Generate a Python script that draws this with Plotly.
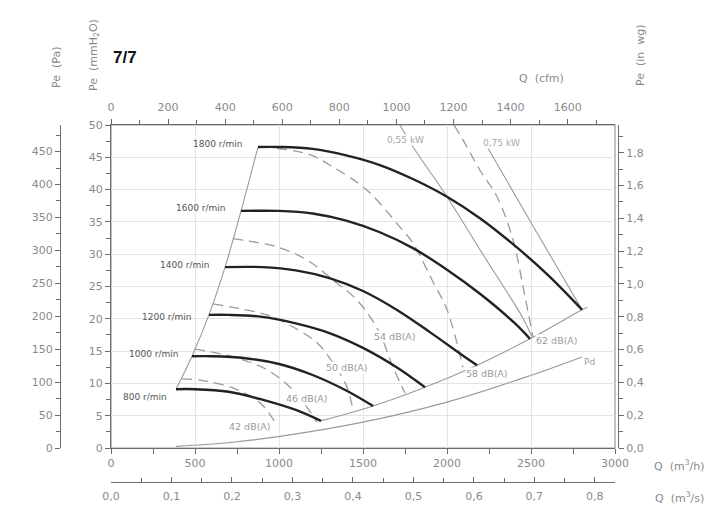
import plotly.graph_objects as go

# ---------------- data (Q in m3/h, Pe in mmH2O) ----------------
q_1800 = [875, 1000, 1200, 1400, 1600, 1800, 2000, 2200, 2400, 2600, 2804]
p_1800 = [46.6, 46.6, 46.3, 45.3, 43.8, 41.6, 38.9, 35.5, 31.4, 26.8, 21.4]
q_1600 = [774, 1000, 1200, 1400, 1600, 1800, 2000, 2200, 2400, 2494]
p_1600 = [36.7, 36.7, 36.3, 35.2, 33.4, 30.9, 27.6, 23.8, 19.4, 16.9]
q_1400 = [679, 900, 1100, 1300, 1500, 1700, 1900, 2100, 2179]
p_1400 = [28.0, 28.0, 27.5, 26.3, 24.3, 21.4, 17.9, 14.2, 12.8]
q_1200 = [583, 700, 900, 1100, 1300, 1500, 1700, 1869]
p_1200 = [20.6, 20.6, 20.3, 19.3, 17.8, 15.5, 12.5, 9.4]
q_1000 = [482, 600, 800, 1000, 1200, 1400, 1560]
p_1000 = [14.2, 14.2, 13.9, 13.0, 11.3, 8.9, 6.5]
q_800 = [387, 500, 700, 900, 1100, 1250]
p_800 = [9.1, 9.1, 8.7, 7.5, 5.9, 4.2]

speed_labels = ["1800 r/min", "1600 r/min", "1400 r/min", "1200 r/min", "1000 r/min", "800 r/min"]

# left limit (curve starts) and right limit (curve ends)
q_left = [387, 482, 583, 679, 774, 875]
p_left = [9.1, 14.2, 20.6, 28.0, 36.7, 46.6]
q_right = [1250, 1560, 1869, 2179, 2494, 2804, 2835]
p_right = [4.2, 6.5, 9.4, 12.8, 16.9, 21.4, 21.8]

# dynamic pressure
q_pd = [387, 726, 1006, 1500, 2000, 2494, 2804]
p_pd = [0.25, 0.9, 1.8, 4.0, 7.1, 11.2, 14.1]

# sound level curves
q_42 = [423, 530, 726, 887, 976]
p_42 = [10.7, 10.5, 9.3, 7.0, 4.0]
q_46 = [500, 726, 929, 1083, 1167, 1226]
p_46 = [15.3, 14.1, 12.1, 9.0, 6.3, 4.0]
q_50 = [607, 929, 1065, 1226, 1321, 1405, 1440]
p_50 = [22.3, 20.6, 19.0, 16.3, 13.2, 9.4, 5.9]
q_54 = [726, 1006, 1185, 1321, 1464, 1589, 1679, 1750]
p_54 = [32.4, 31.0, 28.8, 26.0, 22.9, 18.3, 12.5, 8.5]
q_58 = [988, 1185, 1321, 1524, 1720, 1798, 1911, 2000, 2095]
p_58 = [46.4, 45.4, 43.5, 39.9, 34.2, 31.7, 26.0, 21.4, 12.5]
q_62 = [2042, 2119, 2196, 2298, 2393, 2460, 2512]
p_62 = [50.0, 46.6, 43.0, 38.9, 32.2, 24.0, 17.2]
db_labels = ["42 dB(A)", "46 dB(A)", "50 dB(A)", "54 dB(A)", "58 dB(A)", "62 dB(A)"]

# power lines
q_055 = [1720, 1798, 2000, 2196, 2452, 2506]
p_055 = [50.0, 46.6, 38.9, 30.7, 20.1, 17.2]
q_075 = [2244, 2518, 2804]
p_075 = [46.4, 34.1, 21.4]
kw_labels = ["0,55 kW", "0,75 kW"]

# axis ticks
qh_ticks = [0, 500, 1000, 1500, 2000, 2500, 3000]
qs_ticks = [0.0, 0.1, 0.2, 0.3, 0.4, 0.5, 0.6, 0.7, 0.8]
qs_text = ["0,0", "0,1", "0,2", "0,3", "0,4", "0,5", "0,6", "0,7", "0,8"]
cfm_ticks = [0, 200, 400, 600, 800, 1000, 1200, 1400, 1600]
mm_ticks = [0, 5, 10, 15, 20, 25, 30, 35, 40, 45, 50]
pa_ticks = [0, 50, 100, 150, 200, 250, 300, 350, 400, 450]
inwg_ticks = [0.0, 0.2, 0.4, 0.6, 0.8, 1.0, 1.2, 1.4, 1.6, 1.8]
inwg_text = ["0,0", "0,2", "0,4", "0,6", "0,8", "1,0", "1,2", "1,4", "1,6", "1,8"]

Q_MAX = 3000
P_MAX = 50

# ---------------- figure ----------------
W, H = 716, 517
X0, X1 = 111 / W, 615 / W
Y0, Y1 = (H - 448) / H, (H - 125) / H

FONT = "DejaVu Sans"
TICKC = "#8a8a8a"
fig = go.Figure()

thin = dict(color="#9a9a9a", width=1.1)
dash = dict(color="#9a9a9a", width=1.3, dash="10px,6px")

for q, p in [(q_left, p_left), (q_right, p_right), (q_pd, p_pd), (q_055, p_055), (q_075, p_075)]:
    fig.add_trace(go.Scatter(x=q, y=p, mode="lines", line=dict(**thin, shape="spline", smoothing=1.0),
                             hoverinfo="skip"))
for q, p in [(q_42, p_42), (q_46, p_46), (q_50, p_50), (q_54, p_54), (q_58, p_58), (q_62, p_62)]:
    fig.add_trace(go.Scatter(x=q, y=p, mode="lines", line=dict(**dash, shape="spline", smoothing=1.0),
                             hoverinfo="skip"))
for q, p in [(q_1800, p_1800), (q_1600, p_1600), (q_1400, p_1400), (q_1200, p_1200),
             (q_1000, p_1000), (q_800, p_800)]:
    fig.add_trace(go.Scatter(x=q, y=p, mode="lines",
                             line=dict(color="#222222", width=2.4, shape="spline", smoothing=1.0),
                             hoverinfo="skip"))

# dummy traces so that secondary axes exist
fig.add_trace(go.Scatter(x=[None], y=[None], xaxis="x2", yaxis="y", showlegend=False))
fig.add_trace(go.Scatter(x=[None], y=[None], xaxis="x3", yaxis="y", showlegend=False))
fig.add_trace(go.Scatter(x=[None], y=[None], xaxis="x", yaxis="y2", showlegend=False))
fig.add_trace(go.Scatter(x=[None], y=[None], xaxis="x", yaxis="y3", showlegend=False))

tickfont = dict(family=FONT, size=11, color=TICKC)
axline = "#6a6a6a"

common = dict(automargin=False, zeroline=False, showline=True, linecolor=axline, linewidth=1.3,
              ticklen=5, tickcolor=axline, tickfont=tickfont)

fig.update_layout(
    template="none",
    width=W, height=H, margin=dict(l=0, r=0, t=0, b=0, pad=0),
    paper_bgcolor="white", plot_bgcolor="white", showlegend=False,
    xaxis=dict(domain=[X0, X1], range=[0, Q_MAX], anchor="y", tickvals=qh_ticks, ticks="outside",
               minor=dict(dtick=250, ticks="outside", ticklen=5, tickcolor=axline, showgrid=False),
               showgrid=True, gridcolor="#e4e4e4", gridwidth=1, **common),
    xaxis2=dict(overlaying="x", side="top", anchor="y", range=[0, Q_MAX / 1.69901],
                tickvals=cfm_ticks, ticklabelstandoff=3, ticks="outside",
                minor=dict(dtick=100, ticks="outside", ticklen=4, tickcolor=axline, showgrid=False),
                showgrid=False, **common),
    xaxis3=dict(overlaying="x", side="bottom", anchor="free", position=(H - 482) / H,
                range=[0, Q_MAX / 3600], tickvals=qs_ticks, ticktext=qs_text, ticks="inside",
                ticklabelstandoff=4,
                minor=dict(dtick=0.05, ticks="inside", ticklen=4, tickcolor=axline, showgrid=False),
                showgrid=False, **common),
    yaxis=dict(domain=[Y0, Y1], range=[0, P_MAX], anchor="x", tickvals=mm_ticks, ticks="outside",
               minor=dict(dtick=2.5, ticks="outside", ticklen=4, tickcolor=axline, showgrid=False),
               showgrid=True, gridcolor="#e4e4e4", gridwidth=1, **common),
    yaxis2=dict(overlaying="y", side="left", anchor="free", position=60 / W,
                range=[0, P_MAX * 9.80665], tickvals=pa_ticks, ticks="outside",
                minor=dict(dtick=25, ticks="outside", ticklen=4, tickcolor=axline, showgrid=False),
                showgrid=False, **common),
    yaxis3=dict(overlaying="y", side="right", anchor="free", position=618 / W,
                range=[0, P_MAX / 25.4], tickvals=inwg_ticks, ticktext=inwg_text, ticks="outside",
                minor=dict(dtick=0.1, ticks="outside", ticklen=4, tickcolor=axline, showgrid=False),
                showgrid=False, **common),
)

# plot frame
fig.add_shape(type="rect", xref="paper", yref="paper", x0=X0, x1=X1, y0=Y0, y1=Y1,
              line=dict(color="#9a9a9a", width=1.2), layer="below")

# curve labels (anchors in data coordinates)
speed_pos = [(631, 47.1), (530, 37.2), (440, 28.3), (333, 20.3), (250, 14.6), (202, 7.9)]
for t, (x, y) in zip(speed_labels, speed_pos):
    fig.add_annotation(x=x, y=y, text=t, showarrow=False,
                       font=dict(family=FONT, size=9, color="#555555"))
db_pos = [(827, 3.3), (1167, 7.7), (1405, 12.5), (1690, 17.2), (2238, 11.6), (2655, 16.6)]
for t, (x, y) in zip(db_labels, db_pos):
    fig.add_annotation(x=x, y=y, text=t, showarrow=False, bgcolor="white", borderpad=0,
                       font=dict(family=FONT, size=9.5, color="#9a9a9a"))
kw_pos = [(1750, 47.7), (2327, 47.2)]
for t, (x, y) in zip(kw_labels, kw_pos):
    fig.add_annotation(x=x, y=y, text=t, showarrow=False, bgcolor="white", borderpad=0,
                       font=dict(family=FONT, size=9, color="#a8a8a8"))
fig.add_annotation(x=2851, y=13.3, text="Pd", showarrow=False,
                   font=dict(family=FONT, size=9, color="#a0a0a0"))

# titles
def paper_ann(text, px, py, angle=0, size=11, color=TICKC, family=FONT):
    fig.add_annotation(xref="paper", yref="paper", x=px / W, y=1 - py / H, text=text,
                       showarrow=False, textangle=angle, xanchor="center", yanchor="middle",
                       font=dict(family=family, size=size, color=color))

paper_ann("<b>7/7</b>", 125, 57, size=17, color="#111111", family="Liberation Sans")
paper_ann("Pe  (Pa)", 56, 68, angle=-90)
paper_ann("Pe  (mmH<sub>2</sub>O)", 94, 55, angle=-90)
paper_ann("Pe  (in  wg)", 640, 55, angle=-90)
paper_ann("Q  (cfm)", 541, 78)
paper_ann("Q  (m<sup>3</sup>/h)", 679, 465)
paper_ann("Q  (m<sup>3</sup>/s)", 679, 497)

fig.write_html(
    "out.html",
    config={"displayModeBar": False},
    post_script=("document.body.style.margin='0';"
                 "document.body.style.overflow='hidden';"
                 "document.documentElement.style.overflow='hidden';"),
)
